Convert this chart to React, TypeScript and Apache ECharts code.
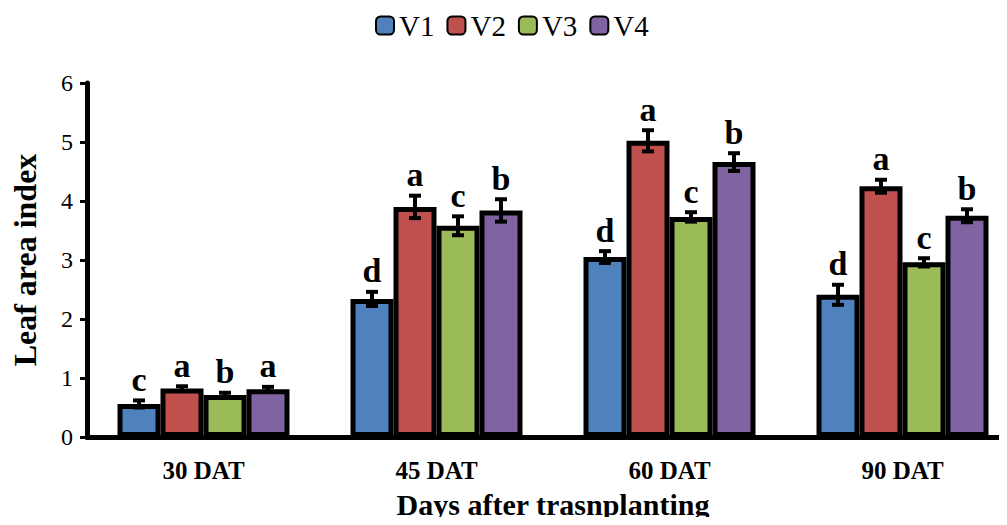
import React, { useEffect, useRef } from "react";
import * as echarts from "echarts";

const categories = ["30 DAT", "45 DAT", "60 DAT", "90 DAT"];
const seriesNames = ["V1", "V2", "V3", "V4"];
const colors = ["#4F81BD", "#C0504D", "#9BBB59", "#8064A2"];
const v1 = [0.56, 2.34, 3.05, 2.41];
const v2 = [0.82, 3.9, 5.02, 4.25];
const v3 = [0.71, 3.58, 3.73, 2.96];
const v4 = [0.81, 3.84, 4.66, 3.75];
const e1 = [0.06, 0.12, 0.1, 0.17];
const e2 = [0.04, 0.19, 0.18, 0.11];
const e3 = [0.04, 0.16, 0.08, 0.07];
const e4 = [0.04, 0.19, 0.15, 0.11];
const l1 = ["c", "d", "d", "d"];
const l2 = ["a", "a", "a", "a"];
const l3 = ["b", "c", "c", "c"];
const l4 = ["a", "b", "b", "b"];
const yTicks = [0, 1, 2, 3, 4, 5, 6];

const values = [v1, v2, v3, v4];
const errors = [e1, e2, e3, e4];
const letters = [l1, l2, l3, l4];
const FONT = "Liberation Serif";
const BAR_W = 43;

export default function App() {
  const ref = useRef<HTMLDivElement>(null);
  useEffect(() => {
    const chart = echarts.init(ref.current!, null, { renderer: "svg" });
    const barSeries = seriesNames.map((n, k) => ({
      name: n,
      type: "bar",
      data: values[k],
      barWidth: BAR_W,
      barGap: "0%",
      itemStyle: { color: colors[k], borderColor: "#000", borderWidth: 5 },
      z: 2,
    }));
    const errSeries = seriesNames.map((n, k) => ({
      name: n + "-err",
      type: "custom",
      z: 5,
      data: values[k].map((v, i) => [i, v, errors[k][i]]),
      renderItem: (params: any, api: any) => {
        const ci = api.value(0);
        const m = api.value(1);
        const e = api.value(2);
        const letter = letters[k][ci];
        const off = (k - 1.5) * BAR_W;
        const top = api.coord([ci, m + e]);
        const bot = api.coord([ci, m - e]);
        const x = top[0] + off;
        const st = { stroke: "#000", lineWidth: 4 };
        return {
          type: "group",
          children: [
            { type: "line", shape: { x1: x, y1: top[1], x2: x, y2: bot[1] }, style: st },
            { type: "line", shape: { x1: x - 6, y1: top[1], x2: x + 6, y2: top[1] }, style: st },
            { type: "line", shape: { x1: x - 6, y1: bot[1], x2: x + 6, y2: bot[1] }, style: st },
            {
              type: "text",
              x: x,
              y: top[1] - 4,
              style: {
                text: letter,
                fill: "#000",
                font: `bold 34px "${FONT}"`,
                textAlign: "center",
                textVerticalAlign: "bottom",
              },
            },
          ],
        };
      },
    }));
    chart.setOption({
      animation: false,
      legend: {
        data: seriesNames,
        top: 6,
        left: 370,
        itemWidth: 18,
        itemHeight: 18,
        itemGap: 12,
        textStyle: { fontFamily: FONT, fontSize: 29, color: "#000" },
      },
      grid: { left: 87, right: -12, top: 83, bottom: 88, outerBoundsMode: "none" },
      xAxis: {
        type: "category",
        data: categories,
        axisLine: { lineStyle: { color: "#000", width: 5 } },
        axisTick: { show: false },
        axisLabel: {
          fontFamily: FONT,
          fontWeight: "bold",
          fontSize: 25,
          color: "#000",
          margin: 21,
        },
        name: "Days after trasnplanting",
        nameLocation: "middle",
        nameGap: 52,
        nameTextStyle: { fontFamily: FONT, fontWeight: "bold", fontSize: 30, color: "#000" },
      },
      yAxis: {
        type: "value",
        min: yTicks[0],
        max: yTicks[yTicks.length - 1],
        interval: 1,
        splitLine: { show: false },
        axisLine: { show: true, lineStyle: { color: "#000", width: 5 } },
        axisTick: { show: true, length: 7, lineStyle: { color: "#000", width: 3 } },
        axisLabel: { fontFamily: FONT, fontSize: 24, color: "#000", margin: 14 },
        name: "Leaf area index",
        nameLocation: "middle",
        nameGap: 46,
        nameTextStyle: {
          fontFamily: FONT,
          fontWeight: "bold",
          fontSize: 32,
          color: "#000",
        },
      },
      series: [...barSeries, ...errSeries],
    });
    return () => chart.dispose();
  }, []);
  return <div ref={ref} style={{ width: 1007, height: 525, margin: -8 }} />;
}
